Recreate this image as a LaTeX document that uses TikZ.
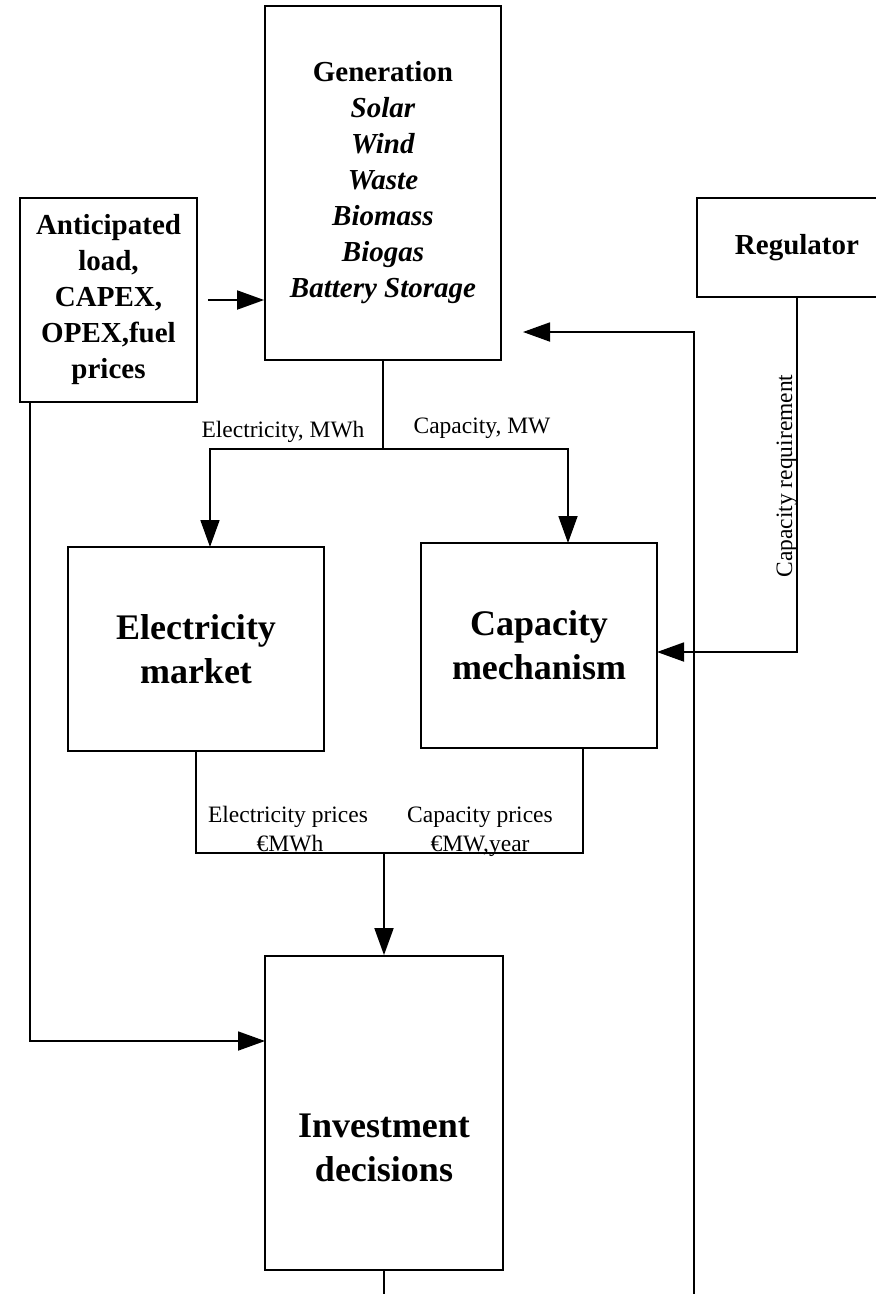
\documentclass[tikz,border=0pt]{standalone}
\usepackage{fontspec}
\setmainfont{Liberation Serif}
\usetikzlibrary{arrows.meta}
\begin{document}
\begin{tikzpicture}[x=1pt,y=-1pt,
 box/.style={draw, line width=1.8pt, align=center, inner sep=0pt},
 conn/.style={line width=1.8pt},
 arr/.style={conn, -{Triangle[length=27pt,width=19pt]}},
 lbl/.style={font=\fontsize{23.5}{27}\selectfont, inner sep=0pt, anchor=base},
 big/.style={font=\fontsize{36}{44}\selectfont\bfseries},
 mid/.style={font=\fontsize{29}{36}\selectfont\bfseries},
]
\useasboundingbox (0,0) rectangle (876,1294);
\clip (0,0) rectangle (876,1294);

% boxes
\node[box, mid, minimum width=236pt, minimum height=354pt] (gen) at (383,183)
  {Generation\\\textit{Solar}\\\textit{Wind}\\\textit{Waste}\\\textit{Biomass}\\\textit{Biogas}\\\textit{Battery Storage}};
\node[box, mid, minimum width=177pt, minimum height=204pt] (ant) at (108.5,300)
  {Anticipated\\load,\\CAPEX,\\OPEX,fuel\\prices};
\node[box, mid, minimum width=200pt, minimum height=99pt] (reg) at (797,247.5) {Regulator};
\node[box, big, minimum width=256pt, minimum height=204pt] (em) at (196,649) {Electricity\\market};
\node[box, big, minimum width=236pt, minimum height=205pt] (cm) at (539,645.5) {Capacity\\mechanism};
\node[box, minimum width=238pt, minimum height=314pt] (inv) at (384,1113) {};
\node[big, align=center, inner sep=0pt] (invt) at (384,1148) {Investment\\decisions};

% coordinates
\coordinate (gj) at (383,449);
\coordinate (emin) at (210,547);
\coordinate (cmin) at (568,543);
\coordinate (a2) at (30,402);
\coordinate (i1) at (265,1041);
\coordinate (c1) at (583,748);
\coordinate (pj) at (384,853);
\coordinate (r1) at (657,652);
\coordinate (b1) at (694,1294);
\coordinate (g1) at (523,332);
\coordinate (b2) at (384,1294);

% connectors
\draw[conn] (gen.south) -- (gj);
\draw[arr] (gj) -| (emin);
\draw[arr] (gj) -| (cmin);
\draw[arr] ([xshift=10pt]ant.east) -- (ant.east -| gen.west);
\draw[arr] (a2) |- (i1);
\draw[conn] (em.south) |- (c1 |- pj) -- (c1);
\draw[arr] (pj) -- (inv.north);
\draw[arr] (reg.south) |- (r1);
\draw[arr] (b1) |- (g1);
\draw[conn] (inv.south) -- (b2);

% labels
\node[lbl] (l1) at (283,437) {Electricity, MWh};
\node[lbl] (l2) at (482,433) {Capacity, MW};
\node[lbl] (l3) at (288,822) {Electricity prices};
\node[lbl] (l4) at (290,851) {€MWh};
\node[lbl] (l5) at (480,822) {Capacity prices};
\node[lbl] (l6) at (480,851) {€MW,year};
\node[lbl, rotate=90] (l7) at (792,476) {Capacity requirement};
\end{tikzpicture}
\end{document}
